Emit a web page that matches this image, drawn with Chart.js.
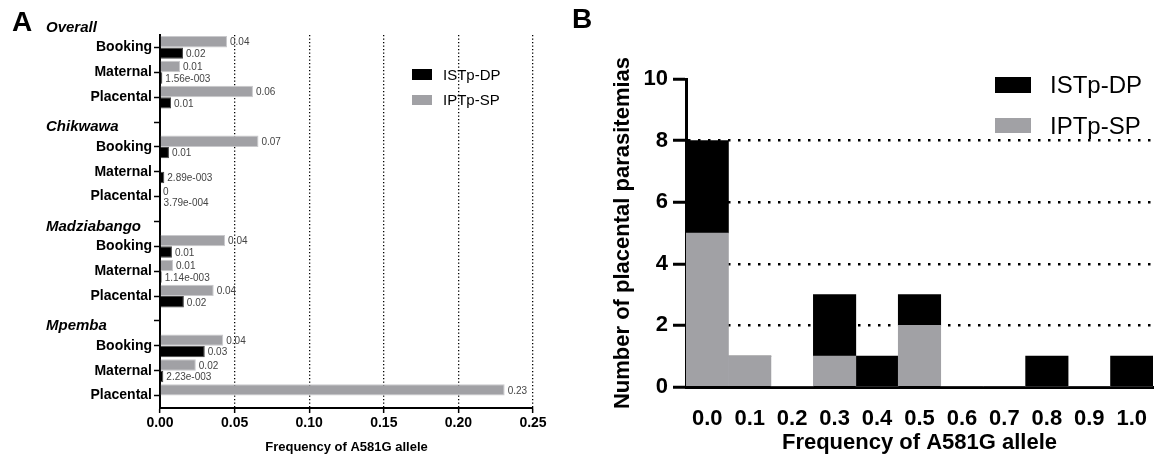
<!DOCTYPE html>
<html>
<head>
<meta charset="utf-8">
<script src="https://cdn.jsdelivr.net/npm/chart.js@4.4.1/dist/chart.umd.min.js"></script>
<style>
  body { margin: 0; background: #fff; font-family: 'Liberation Sans', Arial, sans-serif; }
  #page { position: relative; width: 1156px; height: 464px; overflow: hidden; }
  canvas { position: absolute; top: 0; }
  #chartA { left: 0; }
  #chartB { left: 560px; }
  .panel { position: absolute; font-weight: bold; font-size: 28px; line-height: 32px; }
  .sw { position: absolute; }
  .lt { position: absolute; white-space: nowrap; color: #000; }
</style>
</head>
<body>
<div id="page">
  <canvas id="chartA" width="560" height="464"></canvas>
  <canvas id="chartB" width="596" height="464"></canvas>

  <div class="panel" style="left:12px;top:6px">A</div>
  <div class="panel" style="left:572px;top:3px">B</div>

  <!-- legend, panel A -->
  <div class="sw" style="left:412px;top:69px;width:20px;height:11px;background:#000"></div>
  <div class="lt" style="left:443px;top:66px;font-size:15px;line-height:18px">ISTp-DP</div>
  <div class="sw" style="left:412px;top:95px;width:20px;height:10px;background:#a1a1a5"></div>
  <div class="lt" style="left:443px;top:91px;font-size:15px;line-height:18px">IPTp-SP</div>

  <!-- legend, panel B -->
  <div class="sw" style="left:995px;top:77px;width:36px;height:16px;background:#000"></div>
  <div class="lt" style="left:1050px;top:71px;font-size:24px;line-height:28px">ISTp-DP</div>
  <div class="sw" style="left:995px;top:118px;width:36px;height:15px;background:#a1a1a5"></div>
  <div class="lt" style="left:1050px;top:112px;font-size:24px;line-height:28px">IPTp-SP</div>
</div>

<script>
// --- Panel A data ---
const rowLabels = ['Booking', 'Maternal', 'Placental', '',
                   'Booking', 'Maternal', 'Placental', '',
                   'Booking', 'Maternal', 'Placental', '',
                   'Booking', 'Maternal', 'Placental'];
const siteNames = ['Overall', 'Chikwawa', 'Madziabango', 'Mpemba'];
const siteRows = [-1, 3, 7, 11]; // site name sits under these rows
const iptpSpFreq = [0.0449, 0.0134, 0.0623, null,
                    0.066, null, 0, null,
                    0.0436, 0.0087, 0.036, null,
                    0.0424, 0.024, 0.231];
const istpDpFreq = [0.0154, 0.00156, 0.0074, null,
                    0.006, 0.00289, 0.000379, null,
                    0.008, 0.00114, 0.016, null,
                    0.030, 0.00223, null];
const freqTicks = [0, 0.05, 0.10, 0.15, 0.20, 0.25];

// --- Panel B data ---
const alleleBins = ['0.0', '0.1', '0.2', '0.3', '0.4', '0.5', '0.6', '0.7', '0.8', '0.9', '1.0'];
const istpDpCounts = [3, 0, 0, 2, 1, 1, 0, 0, 1, 0, 1];
const iptpSpCounts = [5, 1, 0, 1, 0, 2, 0, 0, 0, 0, 0];
const countTicks = [0, 2, 4, 6, 8, 10];

const FONT = "'Liberation Sans', Arial, sans-serif";
const GREY = '#a1a1a5';
Chart.defaults.font.family = FONT;
Chart.defaults.color = '#000';

// GraphPad style labels: 2 decimals, tiny values as 1.56e-003
function fmtFreq(v) {
  if (v === 0) return '0';
  if (v < 0.005) {
    const [m, e] = v.toExponential(2).split('e');
    return m + 'e' + (+e < 0 ? '-' : '+') + String(Math.abs(+e)).padStart(3, '0');
  }
  return v.toFixed(2);
}

const barValueLabels = {
  id: 'barValueLabels',
  afterDatasetsDraw(chart) {
    const { ctx } = chart;
    ctx.save();
    ctx.font = '10px ' + FONT;
    ctx.fillStyle = '#444';
    ctx.textBaseline = 'middle';
    chart.data.datasets.forEach((ds, di) => {
      chart.getDatasetMeta(di).data.forEach((bar, i) => {
        const v = ds.data[i];
        if (v === null) return;
        ctx.fillText(fmtFreq(v), bar.x + 3, bar.y + 1);
      });
    });
    ctx.restore();
  }
};

const siteHeaders = {
  id: 'siteHeaders',
  afterDraw(chart) {
    const { ctx } = chart;
    const y = chart.scales.y;
    ctx.save();
    ctx.font = 'italic bold 15px ' + FONT;
    ctx.fillStyle = '#000';
    ctx.textAlign = 'left';
    ctx.textBaseline = 'middle';
    siteNames.forEach((name, i) => {
      ctx.fillText(name, 46, y.getPixelForValue(siteRows[i]) + 5);
    });
    ctx.restore();
  }
};

// Panel A - horizontal grouped bars
new Chart(document.getElementById('chartA'), {
  type: 'bar',
  data: {
    labels: rowLabels,
    datasets: [
      { label: 'IPTp-SP', data: iptpSpFreq, backgroundColor: GREY, borderColor: '#c9c9cc', borderWidth: 1 },
      { label: 'ISTp-DP', data: istpDpFreq, backgroundColor: '#000', borderColor: '#444', borderWidth: 1 }
    ]
  },
  options: {
    indexAxis: 'y',
    responsive: false,
    animation: false,
    layout: { padding: { top: 35, right: 27, left: 0, bottom: 0 } },
    datasets: { bar: { categoryPercentage: 0.92, barPercentage: 1 } },
    plugins: { legend: { display: false }, tooltip: { enabled: false } },
    scales: {
      x: {
        min: 0,
        max: 0.25,
        afterBuildTicks: s => { s.ticks = freqTicks.map(v => ({ value: v })); },
        ticks: { callback: v => v.toFixed(2), font: { size: 14, weight: 'bold' }, color: '#000', padding: 2 },
        grid: {
          color: c => (c.tick && c.tick.value > 0 ? '#000' : 'rgba(0,0,0,0)'),
          lineWidth: 1.3,
          tickColor: '#000',
          tickLength: 5,
          tickWidth: 1.5
        },
        border: { color: '#000', width: 2, dash: [1.3, 2.2] },
        title: {
          display: true,
          text: 'Frequency of A581G allele',
          font: { size: 13, weight: 'bold' },
          color: '#000',
          padding: { top: 0, bottom: 9 }
        },
        afterFit: s => { s.height = 56; }
      },
      y: {
        grid: { drawOnChartArea: false, offset: false, tickLength: 6, tickColor: '#000', tickWidth: 1.5 },
        border: { color: '#000', width: 2 },
        ticks: { font: { size: 14, weight: 'bold' }, color: '#000', padding: 2, autoSkip: false },
        afterFit: s => { s.width = 160; }
      }
    }
  },
  plugins: [barValueLabels, siteHeaders]
});

// Panel B - stacked histogram
new Chart(document.getElementById('chartB'), {
  type: 'bar',
  data: {
    labels: alleleBins,
    datasets: [
      { label: 'IPTp-SP', data: iptpSpCounts, backgroundColor: GREY, borderWidth: 0 },
      { label: 'ISTp-DP', data: istpDpCounts, backgroundColor: '#000', borderWidth: 0 }
    ]
  },
  options: {
    responsive: false,
    animation: false,
    layout: { padding: { top: 79, right: 3, left: 0, bottom: 0 } },
    datasets: { bar: { categoryPercentage: 1, barPercentage: 1 } },
    plugins: { legend: { display: false }, tooltip: { enabled: false } },
    scales: {
      x: {
        stacked: true,
        grid: { display: false },
        border: { color: '#000', width: 3 },
        ticks: { font: { size: 22, weight: 'bold' }, color: '#000', padding: 11 },
        title: {
          display: true,
          text: 'Frequency of A581G allele',
          font: { size: 22, weight: 'bold' },
          color: '#000',
          padding: { top: 0, bottom: 8 }
        },
        afterFit: s => {
          s.height = 77;
          // labels fit inside their bars, no overflow room needed
          s.paddingLeft = 0;
          s.paddingRight = 0;
        }
      },
      y: {
        stacked: true,
        min: 0,
        max: 10,
        afterBuildTicks: s => { s.ticks = countTicks.map(v => ({ value: v })); },
        grid: {
          color: c => (c.tick && c.tick.value > 0 && c.tick.value < 10 ? '#000' : 'rgba(0,0,0,0)'),
          lineWidth: 2.5,
          tickColor: '#000',
          tickWidth: 3,
          tickLength: 13
        },
        border: { color: '#000', width: 3, dash: [2.5, 7.5] },
        ticks: { font: { size: 22, weight: 'bold' }, color: '#000', padding: 5 },
        title: {
          display: true,
          text: 'Number of placental parasitemias',
          font: { size: 22, weight: 'bold' },
          color: '#000',
          padding: { top: 50, bottom: 0 }
        },
        afterFit: s => { s.width = 126; }
      }
    }
  }
});
</script>
</body>
</html>
